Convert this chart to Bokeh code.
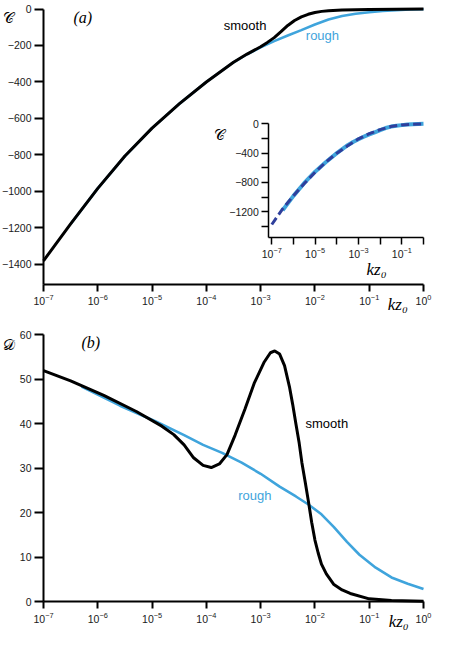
from bokeh.plotting import figure
from bokeh.models import Range1d, LogScale, LogAxis, LinearAxis, FixedTicker, Label
from bokeh.layouts import column
from bokeh.embed import file_html
from bokeh.resources import INLINE

# ---------------- data (kz0 given as exponents of ten) ----------------
# panel (a): C
c_smooth_exp = [-7, -6.5, -6, -5.5, -5, -4.5, -4, -3.5, -3.25, -3, -2.875, -2.75, -2.625,
                -2.5, -2.375, -2.25, -2.125, -2, -1.875, -1.75, -1.5, -1.25, -1, -0.5, 0]
c_smooth = [-1380, -1178, -983, -806, -653, -520, -400, -292, -247, -207, -183, -157, -124,
            -90, -63, -43, -29, -19, -13, -10, -6, -4, -3, -1, 0]
c_rough_exp = [-6.5, -6, -5.5, -5, -4.5, -4, -3.5, -3.25, -3, -2.75, -2.5, -2.25, -2,
               -1.75, -1.5, -1.25, -1, -0.75, -0.5, -0.25, 0]
c_rough = [-1178, -983, -806, -653, -520, -400, -292, -248, -210, -176, -145, -116, -85,
           -58, -38, -26, -18, -11, -6, -3, -1]
# inset: dashed fit
c_fit_exp = [-7, -6.5, -6, -5.5, -5, -4.5, -4, -3.5, -3, -2.5, -2, -1.5, -1, -0.5, 0]
c_fit = [-1373, -1160, -980, -815, -660, -520, -400, -300, -205, -135, -80, -37, -15, -6, -3]

# panel (b): D
d_smooth_exp = [-7, -6.5, -5.89, -5.29, -4.82, -4.6, -4.41, -4.235, -4.06, -3.91, -3.76,
                -3.62, -3.47, -3.29, -3.12, -2.94, -2.82, -2.74, -2.65, -2.56, -2.47, -2.41,
                -2.35, -2.29, -2.24, -2.18, -2.12, -2.06, -2.0, -1.94, -1.88, -1.79, -1.65,
                -1.5, -1.35, -1.0, -0.59, 0]
d_smooth = [51.9, 49.6, 46.3, 42.7, 39.4, 37.5, 35.2, 32.3, 30.6, 30.1, 30.9,
            33.0, 37.4, 43.2, 49.0, 53.7, 55.9, 56.3, 55.6, 53.0, 48.3, 44.3,
            39.9, 35.6, 31.2, 26.9, 22.5, 17.8, 13.8, 10.9, 8.4, 6.2, 3.8,
            2.6, 1.8, 0.6, 0.2, 0.05]
d_rough_exp = [-6.3, -5.59, -4.94, -4.41, -4.06, -3.71, -3.35, -3.0, -2.65, -2.35, -2.12,
               -1.88, -1.65, -1.41, -1.18, -0.88, -0.59, -0.29, 0]
d_rough = [48.3, 44.0, 40.5, 37.4, 35.2, 33.4, 31.2, 28.7, 25.8, 23.6, 21.8,
           19.6, 16.7, 13.4, 10.5, 7.6, 5.4, 4.0, 2.8]

x_tick_exp = [-7, -6, -5, -4, -3, -2, -1, 0]
c_ticks = [0, -200, -400, -600, -800, -1000, -1200, -1400]
d_ticks = [0, 10, 20, 30, 40, 50, 60]
inset_major_y = [0, -400, -800, -1200]
inset_minor_y = [-200, -600, -1000, -1400]
inset_major_x_exp = [-7, -5, -3, -1]
inset_minor_x_exp = [-6, -4, -2, 0]

BLACK = "#000000"
BLUE = "#3fa4dc"
DARK = "#2f3f9c"
TICKFONT = "Liberation Sans"


def tk(exps):
    return [10.0 ** e for e in exps]


def style_axis(ax, width=2.0, out=8):
    ax.axis_line_width = width
    ax.axis_line_color = BLACK
    ax.major_tick_line_width = width
    ax.major_tick_line_color = BLACK
    ax.minor_tick_line_color = BLACK
    ax.minor_tick_line_width = width
    ax.major_tick_in = 0
    ax.minor_tick_in = 0
    ax.major_tick_out = out
    ax.minor_tick_out = out
    ax.major_label_standoff = 3
    ax.major_label_text_font = TICKFONT
    ax.major_label_text_font_size = "10.5px"
    ax.major_label_text_color = "#1a1a1a"


def base_fig(h, xr, yr):
    p = figure(width=433, height=h, x_axis_type="log", x_axis_location=None,
               y_axis_location=None, x_range=xr, y_range=yr,
               output_backend="svg", toolbar_location=None,
               min_border=0, min_border_left=0, min_border_right=0,
               min_border_top=0, min_border_bottom=0)
    p.grid.visible = False
    p.outline_line_color = None
    p.background_fill_color = "white"
    p.border_fill_color = "white"
    return p


def lab(p, x, y, text, font=TICKFONT, size="13px", color=BLACK, style="normal", **kw):
    p.add_layout(Label(x=x, y=y, text=text, text_font=font, text_font_size=size,
                       text_color=color, text_font_style=style, text_baseline="middle",
                       text_align="left", **kw))


def main_axes(p, ybounds, yticks):
    xa = LogAxis(fixed_location=ybounds[0], bounds=(1e-7, 1),
                 ticker=FixedTicker(ticks=tk(x_tick_exp)))
    style_axis(xa, 2.0, 7)
    p.add_layout(xa, "below")
    ya = LinearAxis(fixed_location=1e-7, bounds=ybounds, ticker=FixedTicker(ticks=yticks))
    style_axis(ya, 2.0, 9)
    p.add_layout(ya, "left")


XR = (10.0 ** -7.7921, 10.0 ** 0.1842)

# ---------------- panel (a) ----------------
p1 = base_fig(318, Range1d(*XR), Range1d(-1696.4, 46.59))
main_axes(p1, (-1510, 0), c_ticks)

p1.line(tk(c_rough_exp), c_rough, line_color=BLUE, line_width=2.6)
p1.line(tk(c_smooth_exp), c_smooth, line_color=BLACK, line_width=3)

# inset on its own ranges
p1.extra_x_ranges = {"ix": Range1d(10.0 ** -19.520, 10.0 ** 0.4615)}
p1.extra_x_scales = {"ix": LogScale()}
p1.extra_y_ranges = {"iy": Range1d(-2654.4, 1681.0)}
inset_x0 = 10.0 ** -7.139
inset_y0 = -1546

p1.line(tk(c_rough_exp), c_rough, line_color=BLUE, line_width=4,
        x_range_name="ix", y_range_name="iy")
p1.line(tk(c_fit_exp), c_fit, line_color=DARK, line_width=3, line_dash="8 4",
        x_range_name="ix", y_range_name="iy")

iya = LinearAxis(x_range_name="ix", y_range_name="iy", fixed_location=inset_x0,
                 bounds=(inset_y0, 0),
                 ticker=FixedTicker(ticks=inset_major_y, minor_ticks=inset_minor_y))
style_axis(iya, 1.5, 7)
p1.add_layout(iya, "left")

ixa = LogAxis(x_range_name="ix", y_range_name="iy", fixed_location=inset_y0,
              bounds=(inset_x0, 1),
              ticker=FixedTicker(ticks=tk(inset_major_x_exp), minor_ticks=tk(inset_minor_x_exp)))
style_axis(ixa, 1.5, 7)
p1.add_layout(ixa, "below")

lab(p1, 10 ** -7.746, -49.3, "𝒞", font="DejaVu Serif", size="15px")
lab(p1, 10 ** -6.449, -46.6, "(a)", font="Liberation Serif", size="16px", style="italic")
lab(p1, 10 ** -3.679, -90.4, "smooth")
lab(p1, 10 ** -2.168, -146.9, "rough", color=BLUE)
lab(p1, 10 ** -0.659, -1622, "kz₀", font="Liberation Serif", size="17px", style="italic")
lab(p1, 10 ** -3.856, -687.9, "𝒞", font="DejaVu Serif", size="15px")
lab(p1, 10 ** -1.050, -1427.8, "kz₀", font="Liberation Serif", size="17px", style="italic")

# ---------------- panel (b) ----------------
p2 = base_fig(315, Range1d(*XR), Range1d(-7.191, 63.596))
main_axes(p2, (0, 60), d_ticks)

p2.line(tk(d_rough_exp), d_rough, line_color=BLUE, line_width=2.6)
p2.line(tk(d_smooth_exp), d_smooth, line_color=BLACK, line_width=3)

lab(p2, 10 ** -7.746, 57.6, "𝒟", font="DejaVu Serif", size="15px")
lab(p2, 10 ** -6.302, 58.2, "(b)", font="Liberation Serif", size="16px", style="italic")
lab(p2, 10 ** -2.174, 40.0, "smooth")
lab(p2, 10 ** -3.412, 23.84, "rough", color=BLUE)
lab(p2, 10 ** -0.641, -4.6, "kz₀", font="Liberation Serif", size="17px", style="italic")

layout = column(p1, p2, spacing=0)
open("out.html", "w").write(file_html(layout, INLINE))
